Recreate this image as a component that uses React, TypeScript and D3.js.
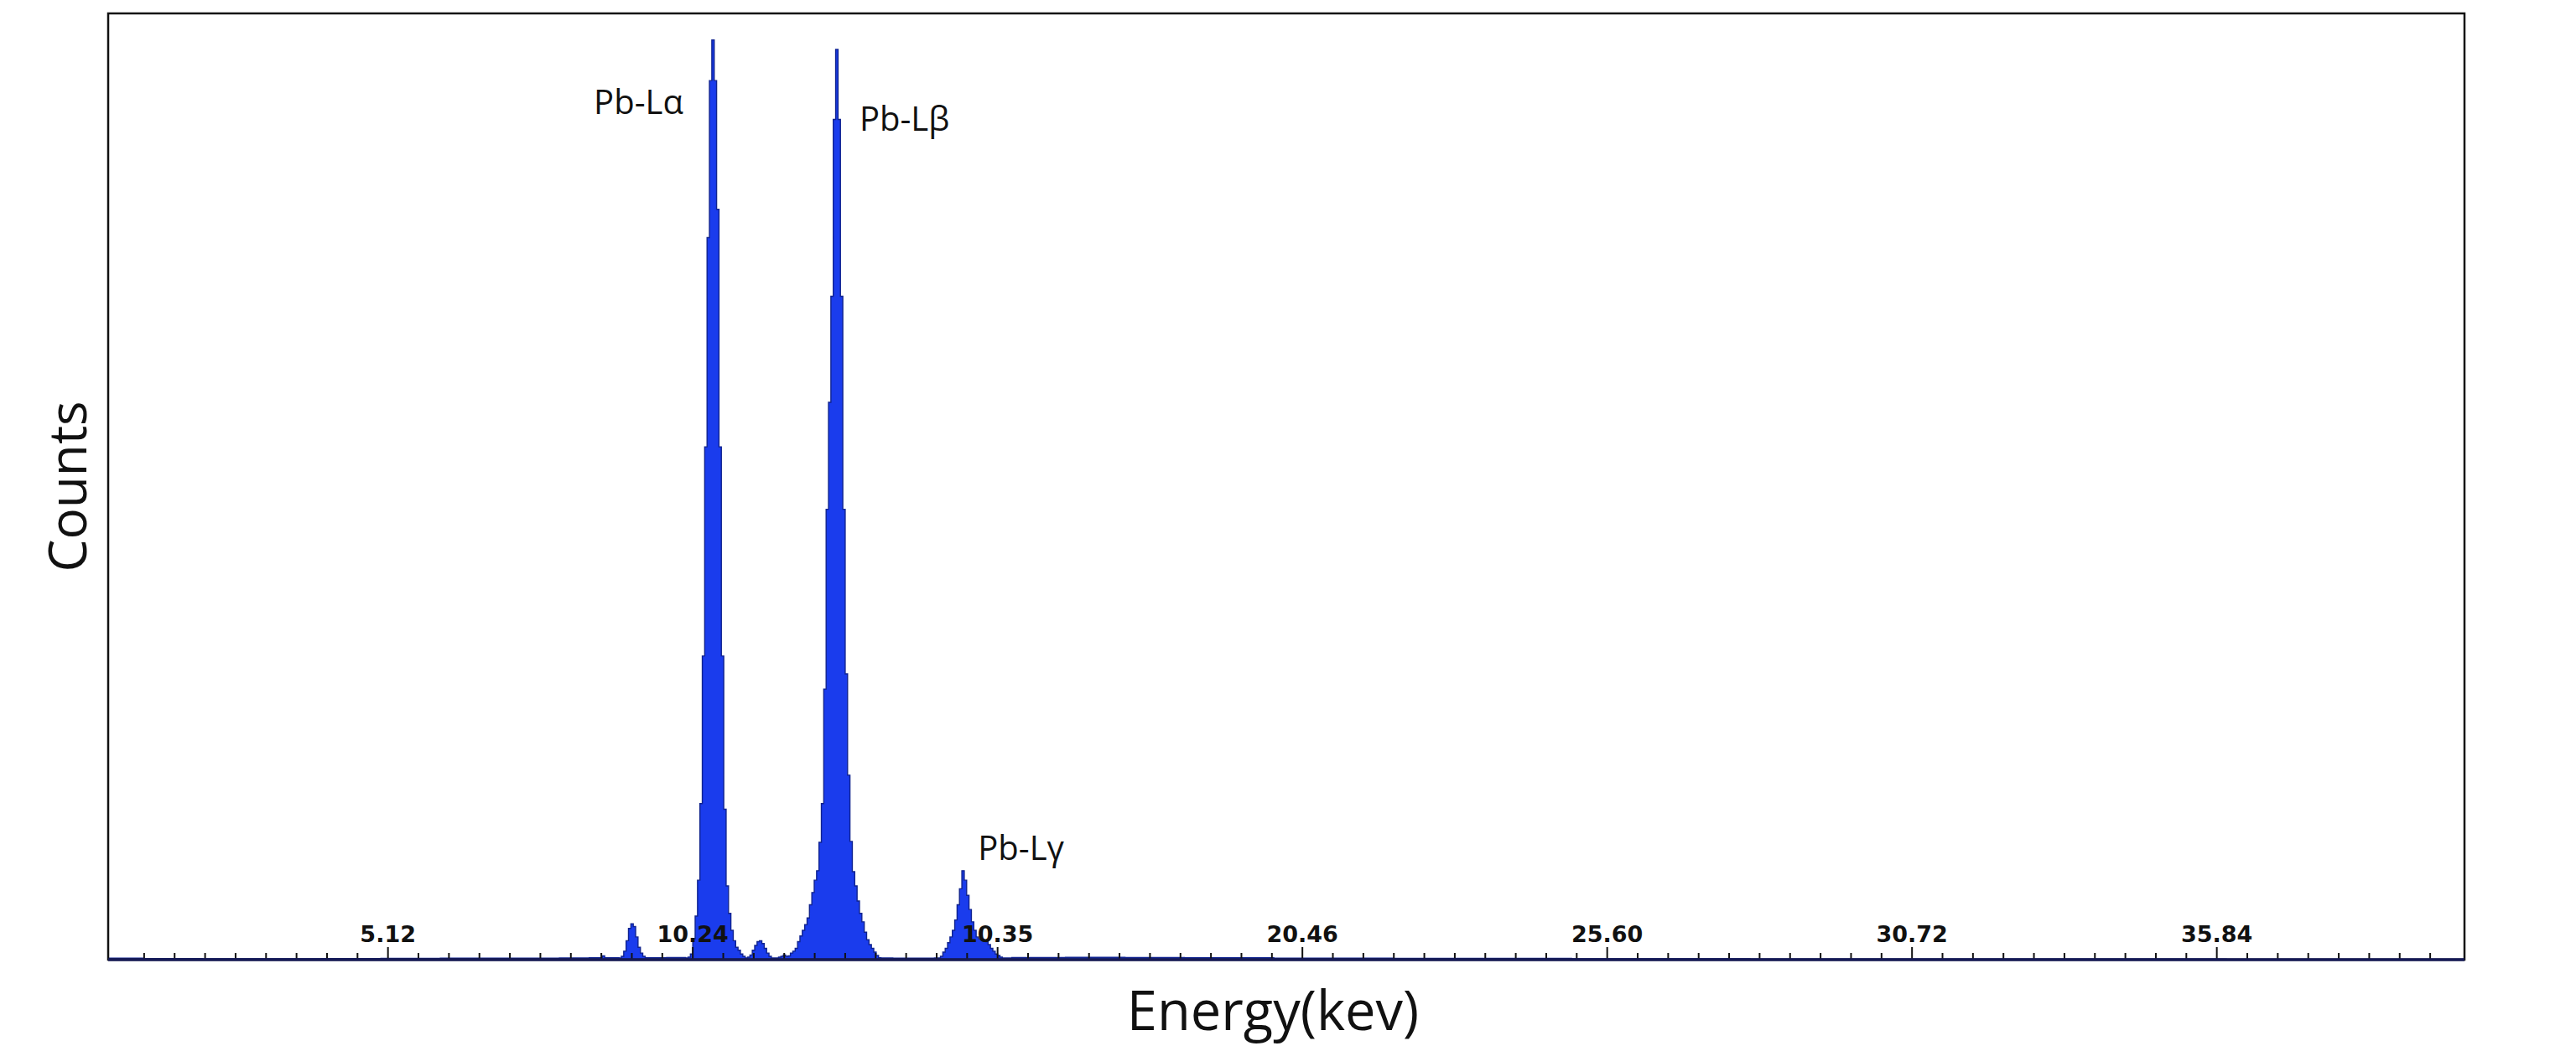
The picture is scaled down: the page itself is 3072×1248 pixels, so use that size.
import React from 'react';
import * as d3 from 'd3';

// spectrum channels (keV) and counts
const energy = [
  0.42, 1.0, 2.0, 3.0, 4.0, 5.0, 6.0, 7.0, 8.0, 8.5, 8.72, 8.76,
  9.0, 9.04, 9.08, 9.12, 9.16, 9.2, 9.24, 9.28, 9.32, 9.36, 9.4, 9.44, 9.8,
  10.12, 10.16, 10.2, 10.24, 10.28, 10.32, 10.36, 10.4, 10.44, 10.48, 10.52, 10.56,
  10.6, 10.64, 10.68, 10.72, 10.76, 10.8, 10.84, 10.88, 10.92, 10.96, 11.0, 11.04, 11.08,
  11.12, 11.16, 11.2, 11.24, 11.28, 11.32, 11.36, 11.4, 11.44, 11.48, 11.52, 11.56,
  11.64, 11.68, 11.72, 11.76, 11.8, 11.84, 11.88, 11.92, 11.96, 12.0, 12.04, 12.08,
  12.12, 12.16, 12.2, 12.24, 12.28, 12.32, 12.36, 12.4, 12.44, 12.48, 12.52, 12.56,
  12.6, 12.64, 12.68, 12.72, 12.76, 12.8, 12.84, 12.88, 12.92, 12.96, 13.0, 13.04,
  13.08, 13.12, 13.16, 13.2, 13.24, 13.28, 13.32, 13.36, 13.4, 13.6, 14.0, 14.3,
  14.4, 14.44, 14.48, 14.52, 14.56, 14.6, 14.64, 14.68, 14.72, 14.76, 14.8, 14.84,
  14.88, 14.92, 14.96, 15.0, 15.04, 15.08, 15.12, 15.16, 15.2, 15.24, 15.28, 15.32,
  15.36, 15.4, 15.44, 15.6, 16.5, 17.5, 18.5, 20.0, 22.0, 25.0, 28.0, 32.0, 36.0, 40.0,
];
const counts = [
  1.5, 1.2, 1.0, 1.0, 1.2, 1.3, 1.5, 1.6, 1.8, 2.0, 4.0, 2.0,
  1.8, 3.5, 9, 20, 33, 38, 35, 24, 13, 7, 3.5, 2.0, 2.2,
  1.8, 2.7, 6, 22, 46, 84, 165, 321, 542, 763, 929, 972,
  929, 793, 542, 321, 159, 78, 49, 31, 20, 13, 10, 6, 3.5,
  1.8, 2.7, 5, 10, 15, 19, 20, 17, 12, 7, 3.5, 1.8,
  1.8, 2.7, 3.5, 5, 3.5, 4, 7, 9, 12, 19, 25, 31,
  37, 44, 58, 71, 84, 94, 124, 165, 286, 476, 589, 701,
  888, 962, 888, 701, 476, 302, 195, 125, 93, 78, 62, 49,
  40, 29, 21, 16, 12, 8, 4.5, 2.0, 1.8, 1.5, 1.5, 1.8,
  3.5, 8, 12, 18, 24, 31, 42, 58, 75, 94, 84, 68,
  53, 40, 31, 24, 22, 21, 20, 19, 16, 12, 9, 6,
  4.5, 2.7, 1.8, 2.2, 2.5, 2.2, 2.0, 1.6, 1.3, 1.0, 0.8, 0.6, 0.5, 0.5,
];

// axis ticks (labels kept exactly as printed on the original)
const majorTicks = [5.12, 10.24, 15.36, 20.48, 25.6, 30.72, 35.84];
const tickLabels = ['5.12', '10.24', '10.35', '20.46', '25.60', '30.72', '35.84'];

// peak annotations
const peakNames = ['Pb-L\u03b1', 'Pb-L\u03b2', 'Pb-L\u03b3'];
const peakLabelEnergy = [10.08, 13.04, 15.03];
const peakLabelCount = [894, 876, 105];
const peakLabelAnchor = ['end', 'start', 'start'];

const W = 3072;
const H = 1248;
const margin = { top: 16, right: 133, bottom: 103, left: 129 };

export default function App() {
  const x = d3.scaleLinear()
    .domain([0.42, 40.0])
    .range([margin.left, W - margin.right]);
  const y = d3.scaleLinear()
    .domain([0, 1000])
    .range([H - margin.bottom, margin.top]);

  const pts = energy.map((e, i) => [e, counts[i]] as [number, number]);

  const area = d3.area<[number, number]>()
    .x(d => x(d[0]))
    .y0(y(0))
    .y1(d => y(d[1]))
    .curve(d3.curveStepAfter);

  const line = d3.line<[number, number]>()
    .x(d => x(d[0]))
    .y(d => y(d[1]))
    .curve(d3.curveStepAfter);

  const minorTicks = d3.range(2, 78).map(k => k * 0.512);
  const x0 = margin.left;
  const x1 = W - margin.right;
  const y0 = y(0);

  return (
    <div style={{ position: 'absolute', left: 0, top: 0, background: '#fff' }}>
      <svg width={W} height={H} viewBox={`0 0 ${W} ${H}`} style={{ display: 'block' }}>
        <rect x={0} y={0} width={W} height={H} fill="#fff" />
        <defs>
          <clipPath id="plot-clip">
            <rect x={x0} y={margin.top} width={x1 - x0} height={y0 - margin.top} />
          </clipPath>
        </defs>

        <g clipPath="url(#plot-clip)">
          <path d={area(pts) || ''} fill="#1a3ced" />
          <path d={line(pts) || ''} fill="none" stroke="#10238f" strokeWidth={1.4} />
        </g>

        {/* ticks pointing up into the plot */}
        {minorTicks.filter(t => x(t) > x0 + 4 && x(t) < x1 - 4).map(t => {
          const major = majorTicks.some(m => Math.abs(m - t) < 0.01);
          return (
            <line key={t} x1={x(t)} x2={x(t)} y1={y0} y2={y0 - (major ? 15 : 8)}
              stroke="#111" strokeWidth={2} />
          );
        })}

        {tickLabels.map((lab, i) => (
          <text key={lab} x={x(majorTicks[i])} y={y0 - 21} textAnchor="middle"
            fontFamily="'DejaVu Sans', sans-serif" fontWeight="bold" fontSize={27} fill="#111">
            {lab}
          </text>
        ))}

        {/* frame */}
        <rect x={x0} y={margin.top} width={x1 - x0} height={y0 - margin.top}
          fill="none" stroke="#111" strokeWidth={2.5} />
        <line x1={x0} x2={x1} y1={y0} y2={y0} stroke="#161a55" strokeWidth={3.5} />

        {peakNames.map((n, i) => (
          <text key={n} x={x(peakLabelEnergy[i])} y={y(peakLabelCount[i])}
            textAnchor={peakLabelAnchor[i] as any}
            fontFamily="'Open Sans', 'Noto Sans', sans-serif" fontSize={40} fill="#111">
            {n}
          </text>
        ))}

        <text x={1518} y={1229} textAnchor="middle"
          fontFamily="'Open Sans', 'Noto Sans', sans-serif" fontSize={65} fill="#111">
          Energy(kev)
        </text>
        <text transform={`translate(103,${(margin.top + y0) / 2}) rotate(-90)`} textAnchor="middle"
          fontFamily="'Open Sans', 'Noto Sans', sans-serif" fontSize={62} fill="#111">
          Counts
        </text>
      </svg>
    </div>
  );
}
